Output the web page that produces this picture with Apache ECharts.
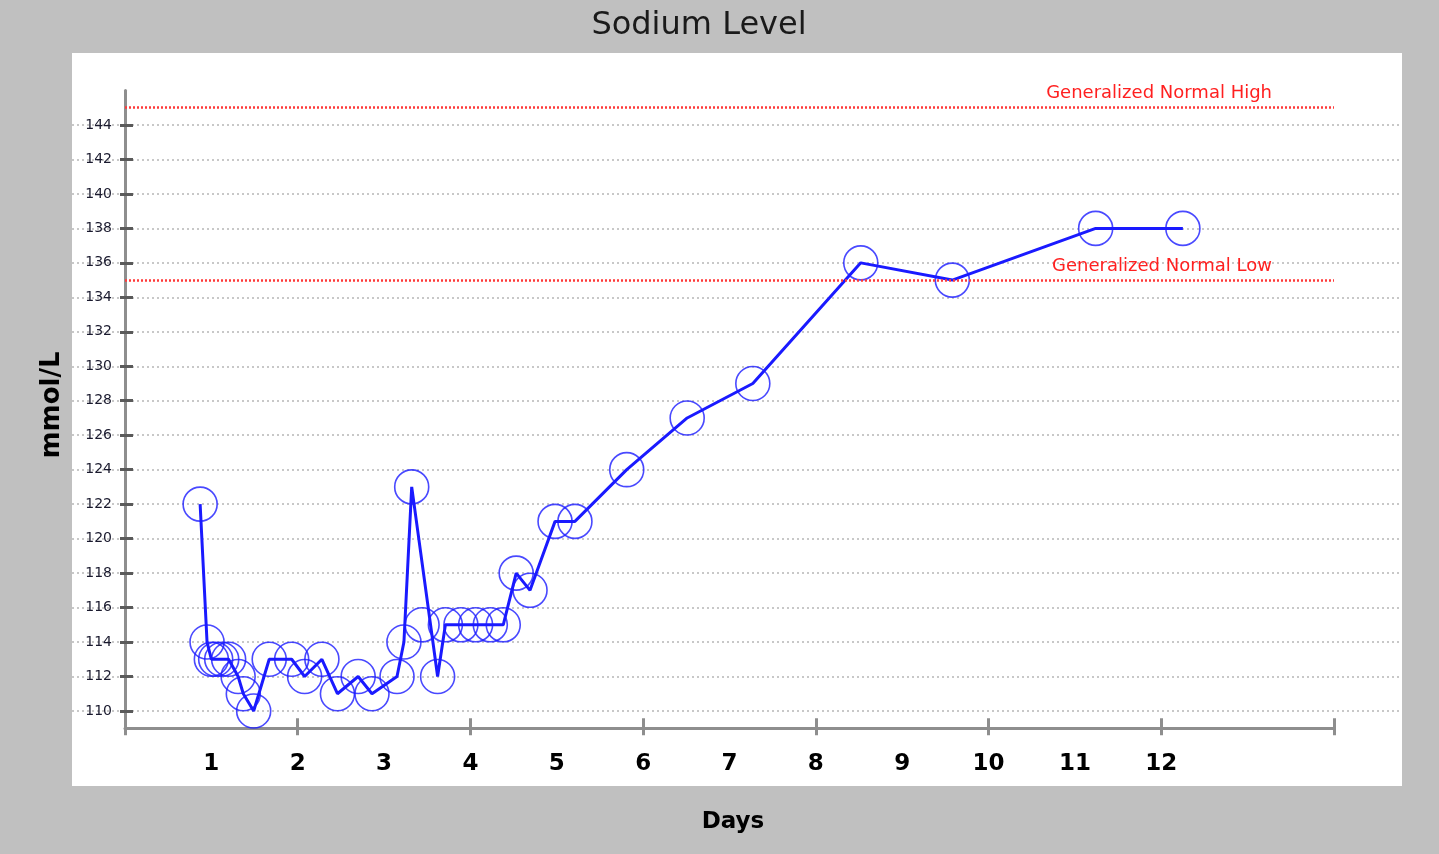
<!DOCTYPE html>
<html>
<head>
<meta charset="utf-8">
<script src="https://cdn.jsdelivr.net/npm/echarts@6/dist/echarts.min.js"></script>
<style>
html,body{margin:0;padding:0;background:#c0c0c0;}
#chart{width:1439px;height:854px;}
</style>
</head>
<body>
<div id="chart"></div>
<script>
// Measurement times (days) and sodium values (mmol/L)
const days = [0.87, 0.95, 1.0, 1.05, 1.12, 1.2, 1.31, 1.37, 1.49, 1.67, 1.93, 2.08, 2.28, 2.46, 2.70, 2.86, 3.15, 3.23, 3.32, 3.44, 3.62, 3.71, 3.89, 4.06, 4.23, 4.38, 4.53, 4.69, 4.98, 5.21, 5.81, 6.51, 7.27, 8.52, 9.58, 11.24, 12.25];
const sodium = [122, 114, 113, 113, 113, 113, 112, 111, 110, 113, 113, 112, 113, 111, 112, 111, 112, 114, 123, 115, 112, 115, 115, 115, 115, 115, 118, 117, 121, 121, 124, 127, 129, 136, 135, 138, 138];
// marker drawn but not joined by the line in the original
const unlinked = [19];
const dayLabels = [1, 2, 3, 4, 5, 6, 7, 8, 9, 10, 11, 12];
const yTickValues = [110, 112, 114, 116, 118, 120, 122, 124, 126, 128, 130, 132, 134, 136, 138, 140, 142, 144];
const normalHigh = 145;
const normalLow = 135;

const points = days.map((d, i) => [d, sodium[i]]);
const linePoints = points.filter((p, i) => unlinked.indexOf(i) < 0);

const chart = echarts.init(document.getElementById('chart'));
const axisGray = '#8e8e8e';
const blue = '#1a1aff';

chart.setOption({
  animation: false,
  backgroundColor: '#c0c0c0',
  graphic: [
    { type: 'rect', z: -10, shape: { x: 72, y: 53, width: 1330, height: 733 }, style: { fill: '#ffffff' } },
    { type: 'text', z: 10, x: 699, y: 26, style: { text: 'Sodium Level', font: '32px "DejaVu Sans"', fill: '#1a1a1a', textAlign: 'center', textVerticalAlign: 'middle' } },
    { type: 'text', z: 10, x: 733, y: 822, style: { text: 'Days', font: 'bold 23px "DejaVu Sans"', fill: '#000', textAlign: 'center', textVerticalAlign: 'middle' } },
    { type: 'text', z: 10, x: 52, y: 405, rotation: Math.PI / 2, style: { text: 'mmol/L', font: 'bold 26px "DejaVu Sans"', fill: '#000', textAlign: 'center', textVerticalAlign: 'middle' } }
  ],
  grid: [
    { left: 72, top: 125, width: 1330, height: 586 },
    { left: 125, top: 90.5, width: 1209, height: 637.7 }
  ],
  xAxis: [
    { gridIndex: 0, type: 'value', show: false, min: 0, max: 1 },
    {
      gridIndex: 1, type: 'value', position: 'bottom', min: 0, max: 14, interval: 2,
      axisLine: { show: true, lineStyle: { color: axisGray, width: 3 } },
      axisTick: { show: true, inside: true, length: 10, lineStyle: { color: axisGray, width: 3 } },
      axisLabel: {
        show: true, customValues: dayLabels, margin: 24,
        fontFamily: 'DejaVu Sans', fontWeight: 'bold', fontSize: 23, color: '#000'
      },
      splitLine: { show: false }
    },
    {
      gridIndex: 1, type: 'value', position: 'bottom', min: 0, max: 14, interval: 2,
      axisLine: { show: false },
      axisTick: { show: true, inside: false, length: 7, lineStyle: { color: axisGray, width: 3 } },
      axisLabel: { show: false },
      splitLine: { show: false }
    }
  ],
  yAxis: [
    {
      gridIndex: 0, type: 'value', min: 110, max: 144, interval: 2,
      axisLine: { show: false }, axisTick: { show: false }, axisLabel: { show: false },
      splitLine: { show: true, lineStyle: { color: '#c8c8c8', width: 2, type: [2, 3] } }
    },
    {
      gridIndex: 1, type: 'value', position: 'left', min: 109, max: 146,
      axisLine: { show: true, lineStyle: { color: axisGray, width: 3 } },
      axisTick: { show: true, inside: true, length: 8, customValues: yTickValues, lineStyle: { color: '#5a5a5a', width: 3 } },
      axisLabel: { show: true, customValues: yTickValues, margin: 13, fontFamily: 'DejaVu Sans', fontSize: 14, color: '#1a1a2e' },
      splitLine: { show: false }
    },
    {
      gridIndex: 1, type: 'value', position: 'left', min: 109, max: 146,
      axisLine: { show: false },
      axisTick: { show: true, inside: false, length: 5, customValues: yTickValues, lineStyle: { color: '#5a5a5a', width: 3 } },
      axisLabel: { show: false },
      splitLine: { show: false }
    }
  ],
  series: [
    {
      type: 'line', xAxisIndex: 1, yAxisIndex: 1, data: linePoints,
      showSymbol: false, symbol: 'none',
      lineStyle: { color: blue, width: 3 },
      z: 3,
      markLine: {
        silent: true, symbol: 'none',
        lineStyle: { color: '#ff3a3a', width: 2.5, type: [2, 2] },
        label: {
          show: true, position: 'insideEndTop', distance: [62, 5],
          formatter: '{b}', color: '#ff2020', fontFamily: 'DejaVu Sans', fontSize: 18
        },
        data: [
          { name: 'Generalized Normal High', yAxis: normalHigh },
          { name: 'Generalized Normal Low', yAxis: normalLow }
        ]
      }
    },
    {
      type: 'scatter', xAxisIndex: 1, yAxisIndex: 1, data: points,
      symbol: 'circle', symbolSize: 34,
      itemStyle: { color: 'rgba(0,0,0,0)', borderColor: '#1c1cff', borderWidth: 1.6 },
      z: 4
    }
  ]
});
</script>
</body>
</html>
